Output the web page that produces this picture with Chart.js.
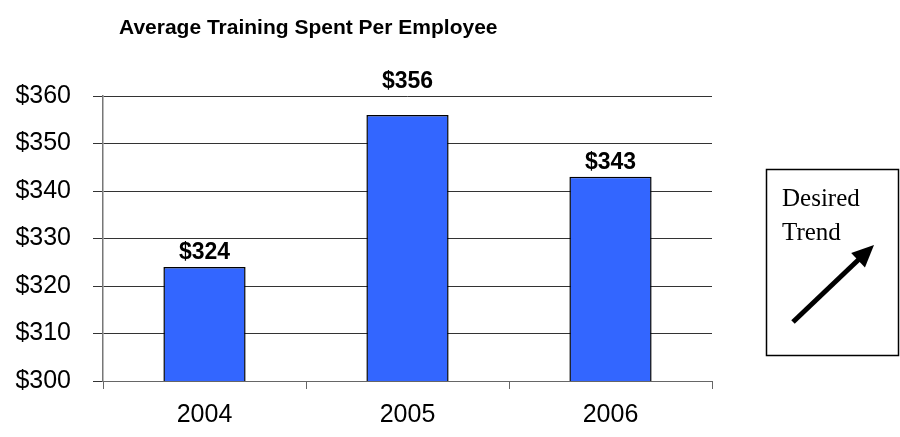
<!DOCTYPE html>
<html>
<head>
<meta charset="utf-8">
<title>Average Training Spent Per Employee</title>
<script src="https://cdn.jsdelivr.net/npm/chart.js@4/dist/chart.umd.min.js"></script>
<style>
  html, body { margin: 0; padding: 0; background: #fff; }
  #chart { display: block; }
</style>
</head>
<body>
<canvas id="chart" width="900" height="437"></canvas>
<script>
const years = ['2004', '2005', '2006'];
const spend = [324, 356, 343];
const yMin = 300;
const yMax = 360;
const yStep = 10;

const SANS = 'Arial, "Liberation Sans", sans-serif';
const SERIF = '"Times New Roman", "Liberation Serif", serif';

// title, value labels and the "Desired Trend" box are drawn straight on the canvas
const extras = {
    id: 'extras',
    afterDatasetsDraw(chart) {
        const ctx = chart.ctx;
        const area = chart.chartArea;
        const meta = chart.getDatasetMeta(0);

        ctx.save();
        ctx.fillStyle = '#000';
        ctx.font = 'bold 23px ' + SANS;
        ctx.textAlign = 'center';
        ctx.textBaseline = 'alphabetic';
        meta.data.forEach((bar, i) => {
            // labels that would hit the top gridline go above the plot instead
            const top = (bar.y - area.top < 30) ? area.top : bar.y;
            ctx.fillText('$' + spend[i], bar.x, top - 8);
        });
        ctx.restore();
    },
    afterDraw(chart) {
        const ctx = chart.ctx;
        ctx.save();

        ctx.fillStyle = '#000';
        ctx.font = 'bold 21px ' + SANS;
        ctx.textAlign = 'left';
        ctx.textBaseline = 'alphabetic';
        ctx.fillText('Average Training Spent Per Employee', 119, 34);

        // trend box
        ctx.strokeStyle = '#000';
        ctx.lineWidth = 1.5;
        ctx.strokeRect(766.5, 169.5, 132, 186);

        ctx.font = '25px ' + SERIF;
        ctx.fillText('Desired', 782, 206);
        ctx.fillText('Trend', 782, 240);

        // arrow
        const x0 = 793, y0 = 322, x1 = 874, y1 = 245;
        const len = Math.hypot(x1 - x0, y1 - y0);
        const dx = (x1 - x0) / len, dy = (y1 - y0) / len;
        const headLen = 22, headHalf = 10;
        const bx = x1 - dx * headLen, by = y1 - dy * headLen;
        ctx.lineWidth = 5;
        ctx.lineCap = 'butt';
        ctx.beginPath();
        ctx.moveTo(x0, y0);
        ctx.lineTo(bx + dx * 2, by + dy * 2);
        ctx.stroke();
        ctx.beginPath();
        ctx.moveTo(x1, y1);
        ctx.lineTo(bx - dy * headHalf, by + dx * headHalf);
        ctx.lineTo(bx + dy * headHalf, by - dx * headHalf);
        ctx.closePath();
        ctx.fill();

        ctx.restore();
    }
};

new Chart(document.getElementById('chart'), {
    type: 'bar',
    data: {
        labels: years,
        datasets: [{
            data: spend,
            backgroundColor: '#3366FF',
            borderColor: '#000',
            borderWidth: 1.5,
            borderSkipped: false,
            barPercentage: 0.405,
            categoryPercentage: 1
        }]
    },
    options: {
        responsive: false,
        animation: false,
        events: [],
        layout: {
            padding: { left: 0, right: 188, top: 96, bottom: 0 }
        },
        plugins: {
            legend: { display: false },
            tooltip: { enabled: false },
            title: { display: false }
        },
        scales: {
            x: {
                offset: true,
                afterFit: s => { s.height = 56; },
                grid: {
                    offset: true,
                    drawOnChartArea: false,
                    drawTicks: true,
                    tickLength: 8,
                    tickColor: '#666'
                },
                border: { display: true, color: '#666', width: 1 },
                ticks: {
                    color: '#000',
                    padding: 11,
                    font: { family: SANS, size: 25 }
                }
            },
            y: {
                min: yMin,
                max: yMax,
                afterFit: s => { s.width = 103; },
                grid: {
                    color: '#333',
                    lineWidth: 1,
                    drawTicks: true,
                    tickLength: 10,
                    tickColor: '#333'
                },
                border: { display: true, color: '#777', width: 1.5 },
                ticks: {
                    stepSize: yStep,
                    color: '#000',
                    padding: 22,
                    font: { family: SANS, size: 25 },
                    callback: v => '$' + v
                }
            }
        }
    },
    plugins: [extras]
});
</script>
</body>
</html>
